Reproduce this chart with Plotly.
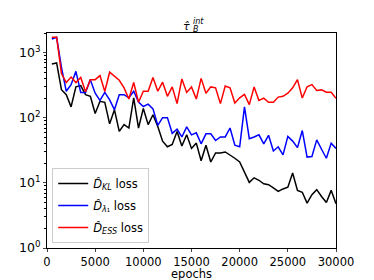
import plotly.graph_objects as go

epochs = [500 * i for i in range(1, 61)]

kl_loss = [675, 700, 272, 228, 148, 300, 315, 228, 215, 117,
           180, 174, 81, 134, 62, 79, 70, 204, 70, 140,
           79, 112, 74, 44, 36, 39, 62, 37, 55, 34,
           41, 22, 38, 21, 29, 29, 30, 27, 24, 21,
           15, 10.2, 12, 11, 9.7, 9.4, 8.4, 7.4, 8.1, 8.6,
           14.2, 7.7, 7.2, 4.9, 6.6, 7.9, 6.2, 5.0, 7.7, 4.8]

lambda_loss = [1640, 1740, 600, 257, 325, 520, 247, 247, 388, 240,
               186, 247, 190, 134, 228, 228, 204, 257, 175, 150,
               163, 138, 77, 101, 101, 58, 67, 51, 73, 55,
               59, 40, 57, 57, 45, 51, 51, 70, 38, 36,
               148, 48, 51, 55, 40, 54, 31, 36, 27, 52,
               44, 35, 64, 25, 25.5, 46, 33, 24, 41, 34]

ess_loss = [1740, 1740, 480, 350, 425, 350, 420, 252, 388, 388,
            448, 255, 505, 440, 380, 290, 195, 350, 174, 257,
            257, 420, 257, 355, 215, 300, 166, 398, 247, 300,
            195, 406, 240, 300, 290, 166, 310, 290, 170, 204,
            230, 160, 300, 186, 202, 174, 174, 209, 215, 240,
            290, 388, 202, 302, 325, 265, 270, 248, 248, 200]

series_names = ["<i>D̂</i><sub><i>KL</i></sub> loss",
                "<i>D̂</i><sub><i>λ</i>₁</sub> loss",
                "<i>D̂</i><sub><i>ESS</i></sub> loss"]
series_colors = ["black", "blue", "red"]

x_ticks = [0, 5000, 10000, 15000, 20000, 25000, 30000]
x_ticktext = ["0", "5000", "10000", "15000", "20000", "25000", "30000"]
y_tickvals = [1, 10, 100, 1000]
y_ticktext = ["10<sup>0</sup>", "10<sup>1</sup>", "10<sup>2</sup>", "10<sup>3</sup>"]
y_minor = [m * 10 ** e for e in range(0, 4) for m in range(2, 10)]

fig = go.Figure()
for k, (vals, name, col) in enumerate(zip([kl_loss, lambda_loss, ess_loss], series_names, series_colors)):
    fig.add_trace(go.Scatter(x=epochs, y=vals, mode="lines", name=name,
                             legendgroup="g%d" % k,
                             line=dict(color=col, width=1.5)))

font = dict(family="DejaVu Sans", size=11, color="black")
tickfont = dict(family="DejaVu Sans", size=11.5, color="black")
fig.update_layout(
    width=366, height=272,
    margin=dict(l=39, r=38, t=25, b=32),
    paper_bgcolor="white", plot_bgcolor="white",
    font=font,
    showlegend=True,
    legend=dict(x=0.018, y=0.372, xanchor="left", yanchor="top",
                bgcolor="rgba(255,255,255,0.8)", bordercolor="#cccccc", borderwidth=1,
                font=dict(family="DejaVu Sans", size=11.5, color="black"),
                tracegroupgap=3, itemwidth=30),
    xaxis=dict(range=[0, 30000], tickvals=x_ticks, ticktext=x_ticktext,
               ticks="outside", ticklen=3, tickfont=tickfont,
               showline=True, linecolor="black", linewidth=1, mirror=True,
               showgrid=False, zeroline=False),
    yaxis=dict(type="log", range=[0, 3.306], tickvals=y_tickvals, ticktext=y_ticktext,
               ticks="outside", ticklen=3, tickfont=dict(family="DejaVu Sans", size=12.5, color="black"),
               minor=dict(tickmode="array", tickvals=y_minor, ticks="outside",
                          ticklen=2, tickcolor="black", showgrid=False),
               showline=True, linecolor="black", linewidth=1, mirror=True,
               showgrid=False, zeroline=False),
)

fig.add_annotation(text="epochs", xref="paper", yref="paper", x=0.5, y=0,
                   xanchor="center", yanchor="middle", showarrow=False, yshift=-26,
                   font=dict(family="DejaVu Sans", size=11.5, color="black"))
fig.add_annotation(text="<i>τ̂</i>", xref="paper", yref="paper", x=0.482, y=1.0,
                   xanchor="center", yanchor="bottom", showarrow=False,
                   font=dict(family="DejaVu Sans", size=11, color="black"), yshift=-2)
fig.add_annotation(text="<i>int</i>", xref="paper", yref="paper", x=0.497, y=1.0,
                   xanchor="left", yanchor="bottom", showarrow=False,
                   font=dict(family="DejaVu Sans", size=8, color="black"), yshift=5)
fig.add_annotation(text="<i>B</i>", xref="paper", yref="paper", x=0.497, y=1.0,
                   xanchor="left", yanchor="bottom", showarrow=False,
                   font=dict(family="DejaVu Sans", size=8, color="black"), yshift=-3)

fig.write_html("out.html")
